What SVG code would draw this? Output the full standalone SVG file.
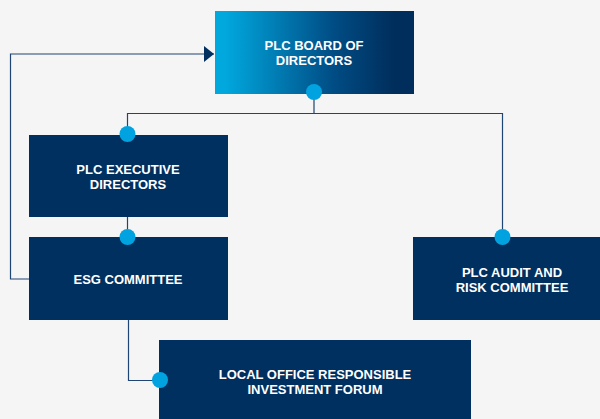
<svg xmlns="http://www.w3.org/2000/svg" width="600" height="419" viewBox="0 0 600 419">
<defs>
<linearGradient id="g" x1="0" y1="0" x2="1" y2="0">
<stop offset="0.05" stop-color="#00a8de"/>
<stop offset="0.6" stop-color="#004c84"/>
<stop offset="0.9" stop-color="#002e5c"/>
</linearGradient>
<marker id="arr" markerWidth="10" markerHeight="16" refX="10" refY="8" orient="auto" markerUnits="userSpaceOnUse">
<path d="M0,0 L10,8 L0,16 Z" fill="#00305f"/>
</marker>
</defs>
<style>
.box{fill:#00305f}
.t{font-family:"Liberation Sans",Arial,sans-serif;font-weight:bold;font-size:13px;fill:#fff;text-anchor:middle}
.ln{fill:none;stroke:#1f4574;stroke-width:1.2}
.dot{fill:#00a3e0}
</style>
<rect width="600" height="419" fill="#f5f5f5"/>
<g id="connectors">
<path class="ln" d="M29,279 H10.5 V54 H214" marker-end="url(#arr)"/>
<path class="ln" d="M314,92 V113.5 M127.5,134 V113.5 H502.5 V237"/>
<path class="ln" d="M127.5,217 V237"/>
<path class="ln" d="M128.5,320 V380.5 H159"/>
</g>
<g id="board">
<rect x="215" y="11" width="199" height="83" fill="url(#g)"/>
<text class="t" x="314" y="50">PLC BOARD OF</text>
<text class="t" x="314" y="65">DIRECTORS</text>
<circle class="dot" cx="314" cy="92" r="8"/>
</g>
<g id="exec">
<rect class="box" x="29" y="135" width="199" height="82"/>
<text class="t" x="128" y="174">PLC EXECUTIVE</text>
<text class="t" x="128" y="189">DIRECTORS</text>
<circle class="dot" cx="127.5" cy="134" r="8"/>
</g>
<g id="esg">
<rect class="box" x="29" y="237" width="199" height="83"/>
<text class="t" x="128" y="284">ESG COMMITTEE</text>
<circle class="dot" cx="127.5" cy="237" r="8"/>
</g>
<g id="audit">
<rect class="box" x="413" y="237" width="187" height="83"/>
<text class="t" x="512" y="277">PLC AUDIT AND</text>
<text class="t" x="512" y="292">RISK COMMITTEE</text>
<circle class="dot" cx="502.5" cy="237" r="8"/>
</g>
<g id="forum">
<rect class="box" x="159" y="340" width="312" height="79"/>
<text class="t" x="315" y="379">LOCAL OFFICE RESPONSIBLE</text>
<text class="t" x="315" y="394">INVESTMENT FORUM</text>
<circle class="dot" cx="160" cy="380" r="8"/>
</g>
</svg>
